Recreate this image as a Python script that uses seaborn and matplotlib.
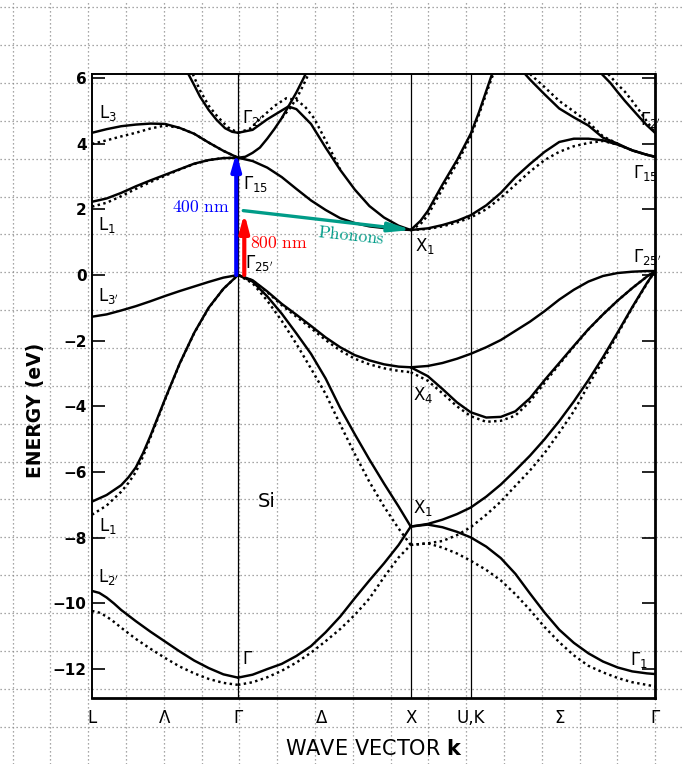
import numpy as np
import pandas as pd
import matplotlib
matplotlib.use("Agg")
import matplotlib.pyplot as plt
import seaborn as sns

# ---------------- data ----------------
K_TICKS = [0.0, 0.5, 1.0, 1.573, 2.183, 2.594, 3.2, 3.856]
K_LABELS = ["L", "Λ", "Γ", "Δ", "X", "U,K", "Σ", "Γ"]
K_VLINES = [1.0, 2.183, 2.594]
E_TICKS = [-12, -10, -8, -6, -4, -2, 0, 2, 4, 6]

# k grids of the three path segments
K_LG = [0.0, 0.1, 0.2, 0.3, 0.4, 0.5, 0.6, 0.7, 0.8, 0.9, 1.0]
K_GX = [1.0, 1.1, 1.2, 1.3, 1.4, 1.5, 1.6, 1.7, 1.8, 1.9, 2.0, 2.1, 2.183]
K_XG = [2.183, 2.3, 2.4, 2.5, 2.594, 2.7, 2.8, 2.9, 3.0, 3.1, 3.2, 3.3, 3.4,
        3.5, 3.6, 3.7, 3.8, 3.856]

# L -> Gamma
K_A = [0.0, 0.05, 0.1, 0.15, 0.2, 0.3, 0.4, 0.5, 0.6, 0.7, 0.8, 0.9, 1.0]
A_SOLID = [-9.62, -9.68, -9.82, -10.0, -10.2, -10.54, -10.86, -11.16, -11.46, -11.74, -11.97, -12.16, -12.26]
A_DOT = [-10.23, -10.28, -10.4, -10.56, -10.74, -11.08, -11.38, -11.66, -11.92, -12.13, -12.3, -12.42, -12.48]
K_B = [0.0, 0.1, 0.2, 0.25, 0.3, 0.35, 0.4, 0.5, 0.6, 0.7, 0.8, 0.9, 1.0]
B_SOLID = [-6.9, -6.7, -6.4, -6.16, -5.86, -5.42, -4.9, -3.78, -2.7, -1.76, -0.99, -0.42, 0.0]
B_DOT = [-7.3, -7.02, -6.6, -6.33, -6.0, -5.52, -4.95, -3.8, -2.71, -1.77, -1.0, -0.42, 0.0]
C_SOLID = [-1.27, -1.2, -1.08, -0.95, -0.8, -0.64, -0.49, -0.35, -0.21, -0.08, 0.0]
D_SOLID = [2.23, 2.33, 2.5, 2.7, 2.88, 3.05, 3.22, 3.39, 3.5, 3.56, 3.57]
D_DOT = [2.08, 2.2, 2.4, 2.62, 2.83, 3.02, 3.21, 3.38, 3.5, 3.56, 3.57]
E_SOLID = [4.33, 4.44, 4.53, 4.58, 4.61, 4.6, 4.48, 4.3, 4.03, 3.78, 3.57]
E_DOT = [3.99, 4.1, 4.22, 4.33, 4.46, 4.55, 4.48, 4.3, 4.03, 3.78, 3.57]
K_F = [0.66, 0.7, 0.74, 0.8, 0.854, 0.911, 0.96, 1.0]
F_SOLID = [6.12, 5.78, 5.43, 5.02, 4.72, 4.47, 4.36, 4.33]
K_F_DOT = [0.69, 0.74, 0.8, 0.86, 0.93, 1.0]
F_DOT = [6.12, 5.62, 5.15, 4.82, 4.5, 4.33]

# Gamma -> X
K_G = [1.0, 1.1, 1.2, 1.3, 1.345, 1.4, 1.5, 1.6, 1.7, 1.8, 1.9, 2.0, 2.1, 2.183]
G_SOLID = [4.33, 4.42, 4.74, 5.01, 5.13, 5.05, 4.6, 3.88, 3.2, 2.6, 2.1, 1.75, 1.5, 1.37]
K_G_DOT = [1.0, 1.08, 1.15, 1.25, 1.33, 1.4, 1.46, 1.52, 1.6, 1.7]
G_DOT = [4.33, 4.45, 4.75, 5.15, 5.38, 5.33, 5.12, 4.78, 4.1, 3.22]
H_SOLID = [3.57, 3.47, 3.27, 2.98, 2.62, 2.27, 1.98, 1.73, 1.58, 1.48, 1.43, 1.39, 1.37]
K_I = [1.0, 1.05, 1.1, 1.15, 1.2, 1.25, 1.3, 1.345, 1.4, 1.45, 1.463]
I_SOLID = [3.57, 3.6, 3.72, 3.88, 4.15, 4.45, 4.78, 5.13, 5.56, 6.0, 6.12]
K_I_DOT = [1.3, 1.36, 1.41, 1.455, 1.483]
I_DOT = [4.78, 5.1, 5.45, 5.85, 6.12]
J_SOLID = [0.0, -0.16, -0.5, -0.88, -1.21, -1.55, -1.9, -2.2, -2.44, -2.6, -2.72, -2.79, -2.81]
J_DOT = [0.0, -0.17, -0.52, -0.92, -1.27, -1.62, -1.98, -2.3, -2.55, -2.72, -2.84, -2.92, -2.96]
KB_SOLID = [0.0, -0.2, -0.65, -1.18, -1.78, -2.4, -3.15, -4.05, -4.85, -5.62, -6.35, -7.05, -7.66]
KB_DOT = [0.0, -0.25, -0.78, -1.4, -2.1, -2.85, -3.62, -4.55, -5.45, -6.3, -7.05, -7.72, -8.22]
L_SOLID = [-12.26, -12.17, -12.0, -11.84, -11.6, -11.3, -10.88, -10.4, -9.84, -9.3, -8.78, -8.22, -7.66]
L_DOT = [-12.48, -12.4, -12.25, -12.05, -11.8, -11.5, -11.15, -10.78, -10.35, -9.85, -9.2, -8.6, -8.22]

# X -> U,K -> Gamma
M_SOLID = [-2.81, -2.77, -2.68, -2.55, -2.4, -2.2, -1.98, -1.7, -1.42, -1.1, -0.75, -0.45,
           -0.2, -0.03, 0.06, 0.1, 0.12, 0.12]
N_SOLID = [-2.81, -3.08, -3.47, -3.88, -4.18, -4.34, -4.32, -4.15, -3.75, -3.2, -2.68, -2.16,
           -1.65, -1.2, -0.78, -0.4, -0.05, 0.12]
N_DOT = [-2.96, -3.22, -3.6, -4.0, -4.3, -4.47, -4.44, -4.28, -3.85, -3.28, -2.72, -2.18,
         -1.66, -1.2, -0.78, -0.4, -0.05, 0.12]
O_SOLID = [-7.66, -7.58, -7.45, -7.28, -7.08, -6.75, -6.38, -5.95, -5.5, -5.0, -4.45, -3.85,
           -3.2, -2.5, -1.75, -0.98, -0.25, 0.12]
O_DOT = [-8.22, -8.17, -8.1, -7.92, -7.68, -7.3, -6.9, -6.42, -5.95, -5.42, -4.8, -4.15,
         -3.35, -2.6, -1.8, -1.0, -0.27, 0.12]
P_SOLID = [-7.66, -7.6, -7.68, -7.82, -7.99, -8.27, -8.62, -9.1, -9.7, -10.28, -10.8, -11.2,
           -11.52, -11.77, -11.95, -12.07, -12.13, -12.15]
P_DOT = [-8.22, -8.17, -8.3, -8.48, -8.7, -8.98, -9.3, -9.72, -10.2, -10.72, -11.18, -11.58,
         -11.9, -12.1, -12.27, -12.4, -12.48, -12.53]
Q_SOLID = [1.37, 1.42, 1.52, 1.65, 1.82, 2.12, 2.5, 2.98, 3.38, 3.75, 4.05, 4.15, 4.15, 4.1,
           3.97, 3.8, 3.66, 3.6]
Q_DOT = [1.37, 1.4, 1.48, 1.6, 1.75, 2.0, 2.35, 2.75, 3.15, 3.5, 3.75, 3.92, 4.02, 4.08,
         3.97, 3.8, 3.66, 3.6]
K_R = [2.183, 2.25, 2.3, 2.4, 2.5, 2.594, 2.65, 2.7, 2.74]
R_SOLID = [1.37, 1.65, 1.95, 2.75, 3.5, 4.3, 4.95, 5.6, 6.12]
K_R_DOT = [2.183, 2.25, 2.3, 2.4, 2.5, 2.594, 2.65, 2.7, 2.748]
R_DOT = [1.37, 1.55, 1.82, 2.62, 3.4, 4.22, 4.88, 5.52, 6.12]
K_S = [2.966, 3.0, 3.1, 3.2, 3.3, 3.4, 3.5, 3.6, 3.7, 3.8, 3.856]
S_SOLID = [6.12, 5.95, 5.5, 5.07, 4.8, 4.55, 4.18, 4.0, 3.79, 3.66, 3.6]
K_S_DOT = [3.0, 3.1, 3.2, 3.3, 3.4, 3.5, 3.6]
S_DOT = [6.12, 5.72, 5.3, 4.98, 4.65, 4.22, 4.0]
K_T = [3.491, 3.55, 3.6, 3.65, 3.7, 3.75, 3.8, 3.856]
T_SOLID = [6.12, 5.85, 5.57, 5.3, 5.05, 4.8, 4.56, 4.33]
K_T_DOT = [3.536, 3.6, 3.65, 3.7, 3.75, 3.8, 3.856]
T_DOT = [6.12, 5.8, 5.58, 5.3, 5.0, 4.68, 4.33]

# point labels (text, k, E)
POINT_LABELS = [
    (r"$\mathrm{L}_{3}$", 0.045, 4.93),
    (r"$\mathrm{L}_{1}$", 0.04, 1.52),
    (r"$\mathrm{L}_{3'}$", 0.04, -0.64),
    (r"$\mathrm{L}_{1}$", 0.05, -7.64),
    (r"$\mathrm{L}_{2'}$", 0.04, -9.19),
    (r"$\Gamma_{2'}$", 1.027, 4.78),
    (r"$\Gamma_{15}$", 1.034, 2.77),
    (r"$\Gamma_{25'}$", 1.048, 0.37),
    (r"$\mathrm{X}_{1}$", 2.212, 0.88),
    (r"$\mathrm{X}_{4}$", 2.199, -3.65),
    (r"$\mathrm{X}_{1}$", 2.199, -7.09),
    (r"$\Gamma$", 1.027, -11.69),
    (r"$\Gamma_{1}$", 3.685, -11.72),
    (r"$\Gamma_{15}$", 3.705, 3.1),
    (r"$\Gamma_{25'}$", 3.705, 0.55),
    (r"$\Gamma_{2'}$", 3.753, 4.72),
]
SI_LABEL = ("Si", 1.137, -6.91)

# optical / phonon arrows: (start k, start E, end k, end E)
ARROW_400 = (0.988, 0.0, 0.988, 3.72)
ARROW_800 = (1.043, 0.0, 1.043, 1.88)
ARROW_PHONON = (1.036, 1.96, 2.19, 1.37)
TEXT_400 = ("400 nm", 0.945, 2.08)
TEXT_800 = ("800 nm", 1.082, 0.96)
TEXT_PHONON = ("Phonons", 1.774, 1.2)

# ---------------- assemble long table ----------------
bands = [
    ("A", "solid", K_A, A_SOLID), ("A", "dotted", K_A, A_DOT),
    ("B", "solid", K_B, B_SOLID), ("B", "dotted", K_B, B_DOT),
    ("C", "solid", K_LG, C_SOLID),
    ("D", "solid", K_LG, D_SOLID), ("D", "dotted", K_LG, D_DOT),
    ("E", "solid", K_LG, E_SOLID), ("E", "dotted", K_LG, E_DOT),
    ("F", "solid", K_F, F_SOLID), ("F", "dotted", K_F_DOT, F_DOT),
    ("G", "solid", K_G, G_SOLID), ("G", "dotted", K_G_DOT, G_DOT),
    ("H", "solid", K_GX, H_SOLID),
    ("I", "solid", K_I, I_SOLID), ("I", "dotted", K_I_DOT, I_DOT),
    ("J", "solid", K_GX, J_SOLID), ("J", "dotted", K_GX, J_DOT),
    ("K", "solid", K_GX, KB_SOLID), ("K", "dotted", K_GX, KB_DOT),
    ("L", "solid", K_GX, L_SOLID), ("L", "dotted", K_GX, L_DOT),
    ("M", "solid", K_XG, M_SOLID),
    ("N", "solid", K_XG, N_SOLID), ("N", "dotted", K_XG, N_DOT),
    ("O", "solid", K_XG, O_SOLID), ("O", "dotted", K_XG, O_DOT),
    ("P", "solid", K_XG, P_SOLID), ("P", "dotted", K_XG, P_DOT),
    ("Q", "solid", K_XG, Q_SOLID), ("Q", "dotted", K_XG, Q_DOT),
    ("R", "solid", K_R, R_SOLID), ("R", "dotted", K_R_DOT, R_DOT),
    ("S", "solid", K_S, S_SOLID), ("S", "dotted", K_S_DOT, S_DOT),
    ("T", "solid", K_T, T_SOLID), ("T", "dotted", K_T_DOT, T_DOT),
]
rows = []
for name, calc, ks, es in bands:
    for k, e in zip(ks, es):
        rows.append({"band": f"{name}-{calc}", "calc": calc, "k": k, "E": e})
df = pd.DataFrame(rows)

# ---------------- figure ----------------
sns.set_style("white")
plt.rcParams["font.family"] = ["DejaVu Sans"]
plt.rcParams["lines.dash_capstyle"] = "butt"
for key in ["text.color", "axes.labelcolor", "xtick.color", "ytick.color"]:
    plt.rcParams[key] = "black"

W, H = 683, 764
fig = plt.figure(figsize=(W / 100, H / 100), dpi=100)

# background help-line grid over the whole sheet
gax = fig.add_axes([0, 0, 1, 1], zorder=0)
gax.set_xlim(0, W)
gax.set_ylim(H, 0)
gax.set_xticks(np.arange(12.7, W, 37.79))
gax.set_yticks(np.arange(7.3, H, 37.86))
gax.grid(True, color="#8a8a8a", linestyle=(0, (1, 2.2)), linewidth=0.9)
gax.tick_params(length=0, labelbottom=False, labelleft=False)
for s in gax.spines.values():
    s.set_visible(False)
gax.set_facecolor("white")

ax = fig.add_axes([92 / W, 66 / H, 563 / W, 624 / H], zorder=1)
ax.set_facecolor("none")

sns.lineplot(data=df, x="k", y="E", units="band", estimator=None, sort=False,
             style="calc", style_order=["dotted", "solid"],
             dashes={"dotted": (1, 1.4), "solid": ""},
             color="black", linewidth=1.75, legend=False, ax=ax)

for kv in K_VLINES:
    ax.axvline(kv, color="black", lw=0.9, zorder=1)

ax.set_xlim(K_TICKS[0], K_TICKS[-1])
ax.set_ylim(-12.88, 6.12)
ax.set_xticks(K_TICKS)
ax.set_xticklabels(K_LABELS, fontsize=12)
ax.set_yticks(E_TICKS)
ax.tick_params(axis="x", length=0, pad=8)
ax.tick_params(axis="y", direction="in", length=9.5, width=1.2, left=True,
               right=True, labelsize=11, pad=4)
plt.setp(ax.get_yticklabels(), fontweight="bold")
for side, lw in [("left", 1.4), ("top", 1.4), ("right", 2.0), ("bottom", 2.0)]:
    ax.spines[side].set_linewidth(lw)
    ax.spines[side].set_color("black")

ax.set_xlabel(r"WAVE VECTOR $\mathbf{k}$", fontsize=15, math_fontfamily="dejavusans")
ax.xaxis.set_label_coords(0.5, -0.066)
ax.set_ylabel("ENERGY (eV)", fontsize=13.5, fontweight="bold")
ax.yaxis.set_label_coords(-0.084, 0.4615)

for txt, kx, ey in POINT_LABELS:
    ax.text(kx, ey, txt, fontsize=12, ha="left", va="center",
            math_fontfamily="dejavusans", color="black")
ax.text(SI_LABEL[1], SI_LABEL[2], SI_LABEL[0], fontsize=14, ha="left", va="center")

BLUE, RED, TEAL = "#0000ff", "#ff0000", "#009c88"


def arrow(spec, color, lw, hl, hw):
    k0, e0, k1, e1 = spec
    ax.annotate("", xy=(k1, e1), xytext=(k0, e0),
                arrowprops=dict(arrowstyle=f"-|>,head_length={hl},head_width={hw}",
                                color=color, lw=lw, shrinkA=0, shrinkB=0,
                                mutation_scale=14), zorder=5)


arrow(ARROW_400, BLUE, 3.0, 0.7, 0.2)
arrow(ARROW_800, RED, 3.0, 0.75, 0.2)
arrow(ARROW_PHONON, TEAL, 2.4, 0.95, 0.2)

ax.text(TEXT_400[1], TEXT_400[2], r"$\mathrm{400\ nm}$", color=BLUE, fontsize=12.7,
        ha="right", va="center", math_fontfamily="cm", zorder=6)
ax.text(TEXT_800[1], TEXT_800[2], r"$\mathrm{800\ nm}$", color=RED, fontsize=12.7,
        ha="left", va="center", math_fontfamily="cm", zorder=6)
ax.text(TEXT_PHONON[1], TEXT_PHONON[2], r"$\mathrm{Phonons}$", color=TEAL,
        fontsize=12.7, ha="center", va="center", rotation=-6, rotation_mode="anchor",
        math_fontfamily="cm", zorder=6)

fig.savefig("out.png", dpi=100)
